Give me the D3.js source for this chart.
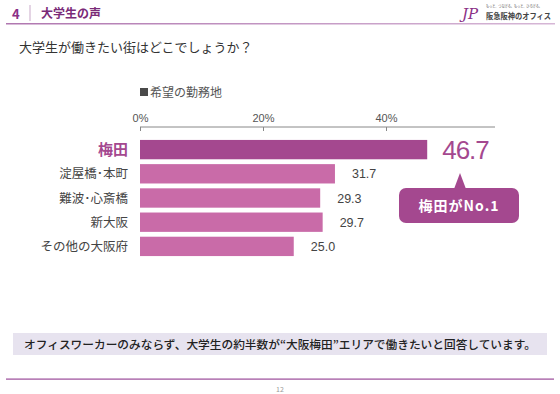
<!DOCTYPE html>
<html>
<head>
<meta charset="utf-8">
<script src="https://cdn.jsdelivr.net/npm/d3@7"></script>
<style>
  body { margin: 0; background: #fff; }
  svg { display: block; font-family: "Noto Sans CJK JP", "Noto Sans", sans-serif; }
</style>
</head>
<body>
<div id="chart"></div>
<script>
const categories = ["梅田", "淀屋橋･本町", "難波･心斎橋", "新大阪", "その他の大阪府"];
const values = [46.7, 31.7, 29.3, 29.7, 25.0];
const tickValues = [0, 20, 40];
const legendLabel = "希望の勤務地";

const width = 560, height = 394;
const purple = "#a4488f", pink = "#c96ba8";

const svg = d3.select("#chart")
  .append("svg")
  .attr("width", width)
  .attr("height", height);

// header
svg.append("text").attr("x", 12).attr("y", 19)
  .attr("font-size", 13).attr("font-weight", 700).attr("fill", "#8a2f86").text("4");
svg.append("line").attr("x1", 30).attr("x2", 30).attr("y1", 5).attr("y2", 21)
  .attr("stroke", "#c9a9c9").attr("stroke-width", 1);
svg.append("text").attr("x", 41).attr("y", 18)
  .attr("font-size", 12).attr("font-weight", 700).attr("fill", "#7a2a78").text("大学生の声");

const grad = svg.append("defs").append("linearGradient").attr("id", "hdr");
grad.append("stop").attr("offset", "0%").attr("stop-color", "#b077b0");
grad.append("stop").attr("offset", "100%").attr("stop-color", "#d6b7d6");
svg.append("rect").attr("x", 6).attr("y", 23).attr("width", 549).attr("height", 1.5)
  .attr("fill", "url(#hdr)");

// logo
svg.append("text").attr("x", 462).attr("y", 19)
  .attr("font-family", "DejaVu Serif").attr("font-style", "italic")
  .attr("font-size", 15).attr("fill", "#8a2f86").text("JP");
svg.append("text").attr("x", 486).attr("y", 8)
  .attr("font-size", 4).attr("fill", "#555")
  .attr("textLength", 56).attr("lengthAdjust", "spacingAndGlyphs")
  .text("もっと、つなげる。もっと、ひろげる。");
svg.append("text").attr("x", 486).attr("y", 19)
  .attr("font-size", 8).attr("font-weight", 700).attr("fill", "#444")
  .attr("textLength", 65).attr("lengthAdjust", "spacingAndGlyphs")
  .text("阪急阪神のオフィス");

// question
svg.append("text").attr("x", 19).attr("y", 52)
  .attr("font-size", 13).attr("fill", "#333").text("大学生が働きたい街はどこでしょうか？");

// scales
const x = d3.scaleLinear().domain([0, 40]).range([140, 386]);
const y = d3.scaleBand().domain(categories).range([138, 258]).paddingInner(0.2).paddingOuter(0.08);

// legend
svg.append("rect").attr("x", 140).attr("y", 88).attr("width", 8).attr("height", 8).attr("fill", "#4a4a4a");
svg.append("text").attr("x", 150).attr("y", 96.5)
  .attr("font-size", 12).attr("fill", "#555").text(legendLabel);

// axis
const axis = svg.append("g")
  .attr("transform", "translate(0,127)")
  .call(d3.axisTop(x).tickValues(tickValues).tickSize(-4).tickFormat(d => d + "%"));
axis.select(".domain").attr("d", `M${x(0)},0H495`).attr("stroke", "#888");
axis.selectAll(".tick line").attr("stroke", "#888").attr("y2", 4);
axis.selectAll(".tick text").attr("y", -5).attr("font-size", 11).attr("fill", "#555")
  .attr("font-family", "Liberation Sans, sans-serif");

// bars
svg.selectAll(".bar")
  .data(categories)
  .join("rect")
  .attr("class", "bar")
  .attr("x", x(0))
  .attr("y", d => y(d))
  .attr("width", (d, i) => x(values[i]) - x(0))
  .attr("height", y.bandwidth())
  .attr("fill", (d, i) => i === 0 ? purple : pink);

// category labels
svg.selectAll(".cat")
  .data(categories)
  .join("text")
  .attr("class", "cat")
  .attr("x", 128)
  .attr("y", d => y(d) + y.bandwidth() / 2)
  .attr("dy", "0.36em")
  .attr("text-anchor", "end")
  .attr("font-size", (d, i) => i === 0 ? 15 : 12.5)
  .attr("font-weight", (d, i) => i === 0 ? 700 : 400)
  .attr("fill", (d, i) => i === 0 ? purple : "#444")
  .text(d => d);

// value labels
svg.selectAll(".val")
  .data(categories)
  .join("text")
  .attr("class", "val")
  .attr("x", (d, i) => x(values[i]) + (i === 0 ? 15 : 17))
  .attr("y", d => y(d) + y.bandwidth() / 2)
  .attr("dy", "0.36em")
  .attr("font-family", "Liberation Sans, sans-serif")
  .attr("font-size", (d, i) => i === 0 ? 26 : 12.5)
  .attr("letter-spacing", (d, i) => i === 0 ? -1 : 0)
  .attr("fill", (d, i) => i === 0 ? purple : "#444")
  .text((d, i) => values[i].toFixed(1));

// callout
const cx = 460;
svg.append("path")
  .attr("d", `M${cx - 6},189 L${cx},173 L${cx + 6},189 Z`)
  .attr("fill", purple);
svg.append("rect").attr("x", 399).attr("y", 188).attr("width", 120).attr("height", 35)
  .attr("rx", 7).attr("fill", purple);
svg.append("text").attr("x", 459).attr("y", 211)
  .attr("text-anchor", "middle").attr("font-size", 14).attr("font-weight", 700)
  .attr("letter-spacing", 1).attr("fill", "#fff").text("梅田がNo.1");

// footer
svg.append("rect").attr("x", 13).attr("y", 333).attr("width", 534).attr("height", 22).attr("fill", "#e7e3ef");
svg.append("text").attr("x", 280).attr("y", 349)
  .attr("text-anchor", "middle").attr("font-size", 11.7).attr("font-weight", 500).attr("fill", "#222")
  .text("オフィスワーカーのみならず、大学生の約半数が“大阪梅田”エリアで働きたいと回答しています。");
svg.append("rect").attr("x", 6).attr("y", 378.5).attr("width", 548).attr("height", 1.2).attr("fill", "#9a4a99");
svg.append("text").attr("x", 280).attr("y", 392)
  .attr("text-anchor", "middle").attr("font-size", 7).attr("fill", "#999").text("12");
</script>
</body>
</html>
